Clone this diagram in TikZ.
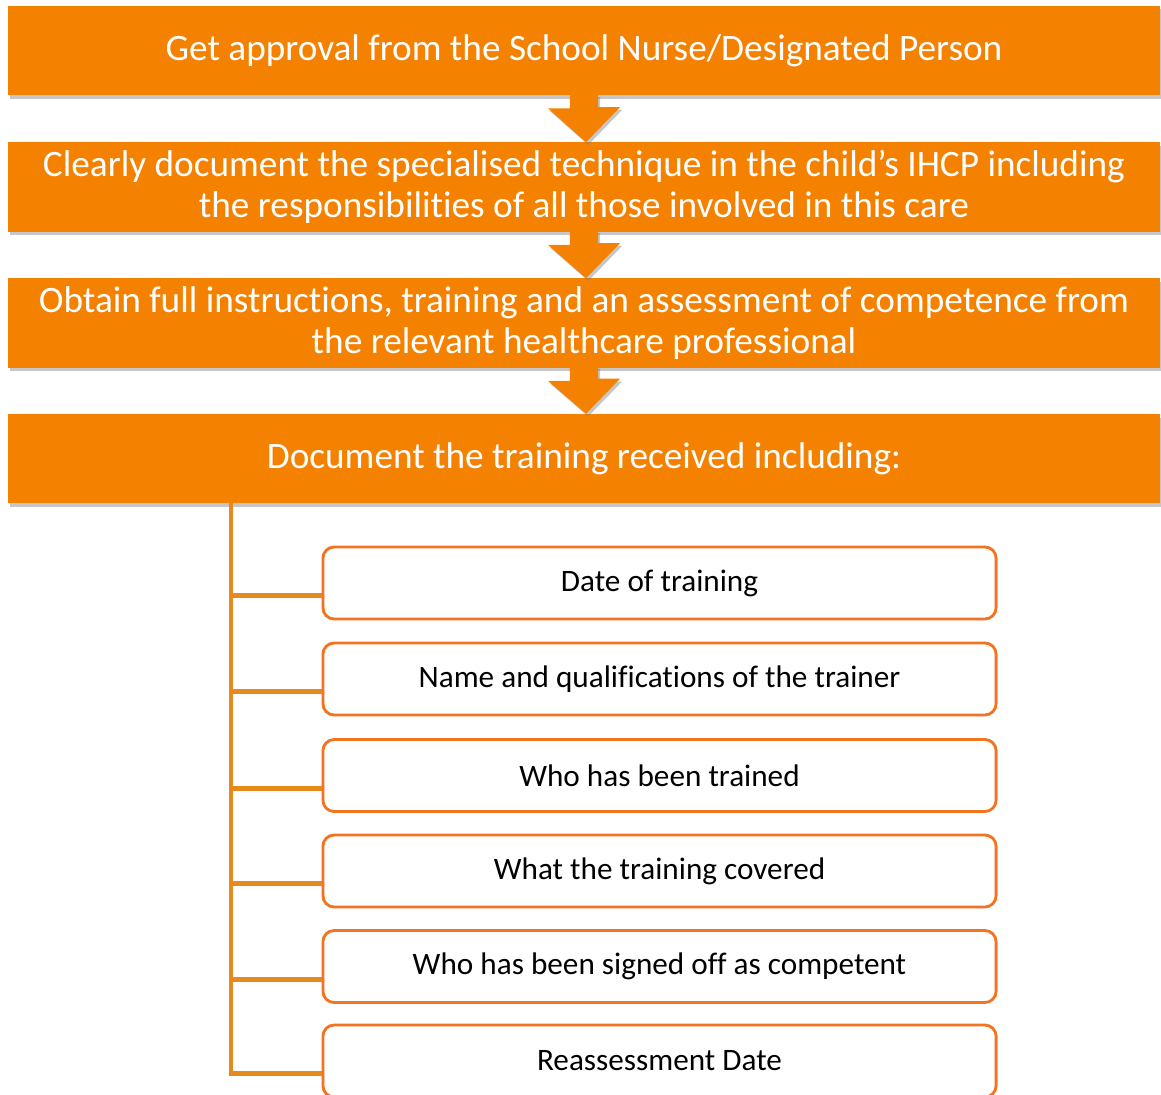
\documentclass[tikz,border=0pt]{standalone}
\usepackage{fontspec}
\setmainfont{Carlito}[Ligatures=NoCommon]
\usetikzlibrary{shadows}

\definecolor{stepfill}{HTML}{F58100}
\definecolor{itemline}{HTML}{F37321}
\definecolor{treeline}{HTML}{E8891C}

\tikzset{
    stepbox/.style={fill=stepfill, text=white, minimum width=28.8cm, minimum height=2.225cm,
        align=center, font=\fontsize{26.5}{29}\selectfont, inner sep=0pt,
        drop shadow={shadow xshift=1.5pt, shadow yshift=-2.5pt, opacity=0.45}},
    itembox/.style={draw=itemline, line width=2pt, rounded corners=8pt, fill=white,
        minimum width=16.825cm, minimum height=1.8cm, font=\fontsize{22.2}{26}\selectfont},
    blockarrow/.style={fill=stepfill, drop shadow={shadow xshift=1.5pt, shadow yshift=-2pt, opacity=0.45}},
    branch/.style={draw=treeline, line width=3.5pt}
}

\begin{document}
\begin{tikzpicture}[x=0.025cm, y=-0.025cm]
    \useasboundingbox (0,0) rectangle (1161,1095);

    % the four steps
    \node[stepbox] (approve) at (584,50.5) {Get approval from the School Nurse/Designated Person};
    \node[stepbox] (ihcp) at (584,187) {Clearly document the specialised technique in the child’s IHCP including\\the responsibilities of all those involved in this care};
    \node[stepbox] (obtain) at (584,323) {Obtain full instructions, training and an assessment of competence from\\the relevant healthcare professional};
    \node[stepbox] (doc) at (584,458.5) {Document the training received including:};

    % arrows between the steps
    \foreach \a/\b in {approve/ihcp, ihcp/obtain, obtain/doc}
        \fill[blockarrow] ([xshift=-10pt]\a.south) -- ++(0,13) -- ++(-22,0) -- (\b.north -| 586,0) -- ++(34,-35) -- ++(-22,0) -- ++(0,-13) -- cycle;

    % what has to be recorded
    \node[itembox] (d1) at (659.5,583) {Date of training};
    \node[itembox] (d2) at (659.5,679) {Name and qualifications of the trainer};
    \node[itembox] (d3) at (659.5,775.5) {Who has been trained};
    \node[itembox] (d4) at (659.5,871) {What the training covered};
    \node[itembox] (d5) at (659.5,966.5) {Who has been signed off as competent};
    \node[itembox] (d6) at (659.5,1061) {Reassessment Date};

    \coordinate (spine) at (doc.south -| 231,0);
    \foreach \n in {d1,d2,d3,d4,d5,d6}
        \draw[branch] (spine) |- ([yshift=-9pt]\n.west);

\end{tikzpicture}
\end{document}
